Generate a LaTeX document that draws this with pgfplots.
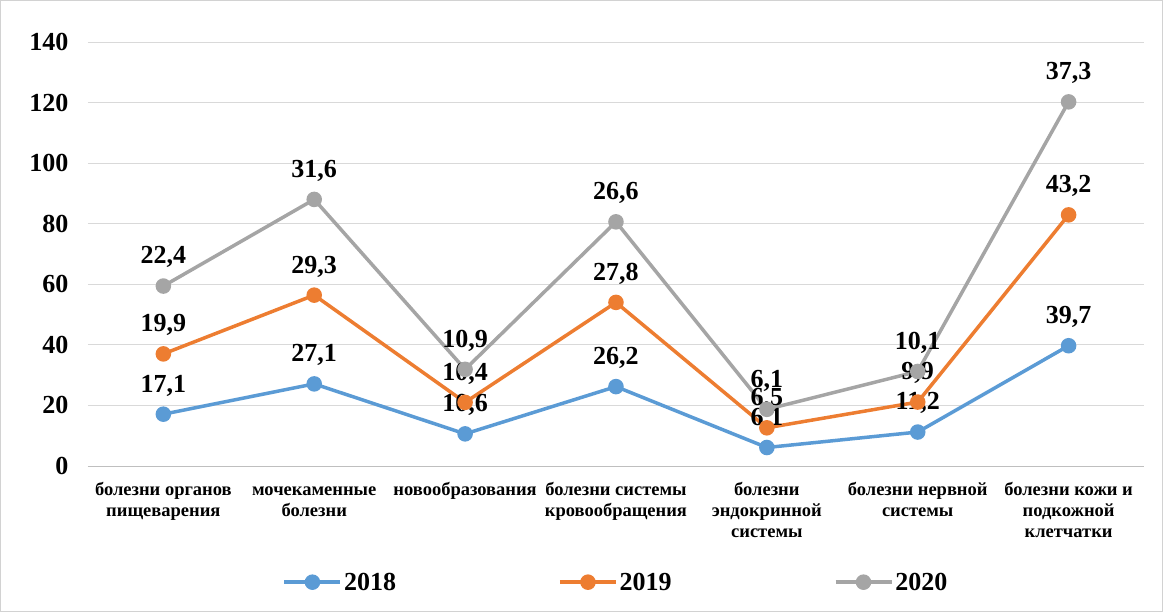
\documentclass[border=0pt]{standalone}
\usepackage{fontspec}
\setmainfont{Liberation Serif}
\usepackage{pgfplots}
\pgfplotsset{compat=1.18}
\definecolor{c18}{HTML}{5B9BD5}
\definecolor{c19}{HTML}{ED7D31}
\definecolor{c20}{HTML}{A5A5A5}
\begin{document}
\begin{tikzpicture}
\path[use as bounding box, draw=gray!35, line width=0.8bp] (0.5bp,0.5bp) rectangle (1162.5bp,611.5bp);
\begin{axis}[
  at={(88bp,146bp)}, anchor=south west,
  scale only axis, width=1056bp, height=424bp,
  xmin=-0.5, xmax=6.5, ymin=0, ymax=140,
  ytick={0,20,...,140},
  xtick={0,...,6},
  xticklabels={{\strut болезни органов\\пищеварения},{\strut мочекаменные\\болезни},{\strut новообразования},{\strut болезни системы\\кровообращения},{\strut болезни\\эндокринной\\системы},{\strut болезни нервной\\системы},{\strut болезни кожи и\\подкожной\\клетчатки}},
  x tick label style={font=\fontsize{18.5bp}{21bp}\selectfont\bfseries, align=center, anchor=north, yshift=-11bp},
  y tick label style={font=\fontsize{26bp}{28bp}\selectfont\bfseries, xshift=-16bp},
  /pgf/number format/assume math mode=true,
  ymajorgrids, grid style={gray!30, line width=0.8bp},
  axis x line*=bottom, axis y line*=left,
  y axis line style={draw=none},
  x axis line style={gray!50, line width=0.8bp, -},
  major tick length=0pt,
  clip=false,
  point meta=explicit symbolic,
  nodes near coords,
  every node near coord/.append style={font=\fontsize{26bp}{28bp}\selectfont\bfseries, anchor=south, yshift=13bp, black},
  legend columns=3,
  legend style={at={(0.5,-0.274)}, anchor=center, draw=none, fill=none,
    font=\fontsize{26bp}{28bp}\selectfont\bfseries,
    /tikz/every odd column/.append style={column sep=0bp},
    /tikz/every even column/.append style={column sep=160bp}},
  legend image code/.code={\draw[#1, line width=3.5bp] (0bp,0bp) -- (56bp,0bp); \draw[#1, fill, mark size=6bp] plot[mark=*] coordinates {(28bp,0bp)};},
]
\addplot[c18, line width=3.5bp, mark=*, mark size=6bp] coordinates {
 (0,17.1) [17,1] (1,27.1) [27,1] (2,10.6) [10,6] (3,26.2) [26,2] (4,6.1) [6,1] (5,11.2) [11,2] (6,39.7) [39,7]};
\addlegendentry{2018}
\addplot[c19, line width=3.5bp, mark=*, mark size=6bp] coordinates {
 (0,37.0) [19,9] (1,56.4) [29,3] (2,21.0) [10,4] (3,54.0) [27,8] (4,12.6) [6,5] (5,21.1) [9,9] (6,82.9) [43,2]};
\addlegendentry{2019}
\addplot[c20, line width=3.5bp, mark=*, mark size=6bp] coordinates {
 (0,59.4) [22,4] (1,88.0) [31,6] (2,31.9) [10,9] (3,80.6) [26,6] (4,18.7) [6,1] (5,31.2) [10,1] (6,120.2) [37,3]};
\addlegendentry{2020}
\end{axis}
\end{tikzpicture}
\end{document}
